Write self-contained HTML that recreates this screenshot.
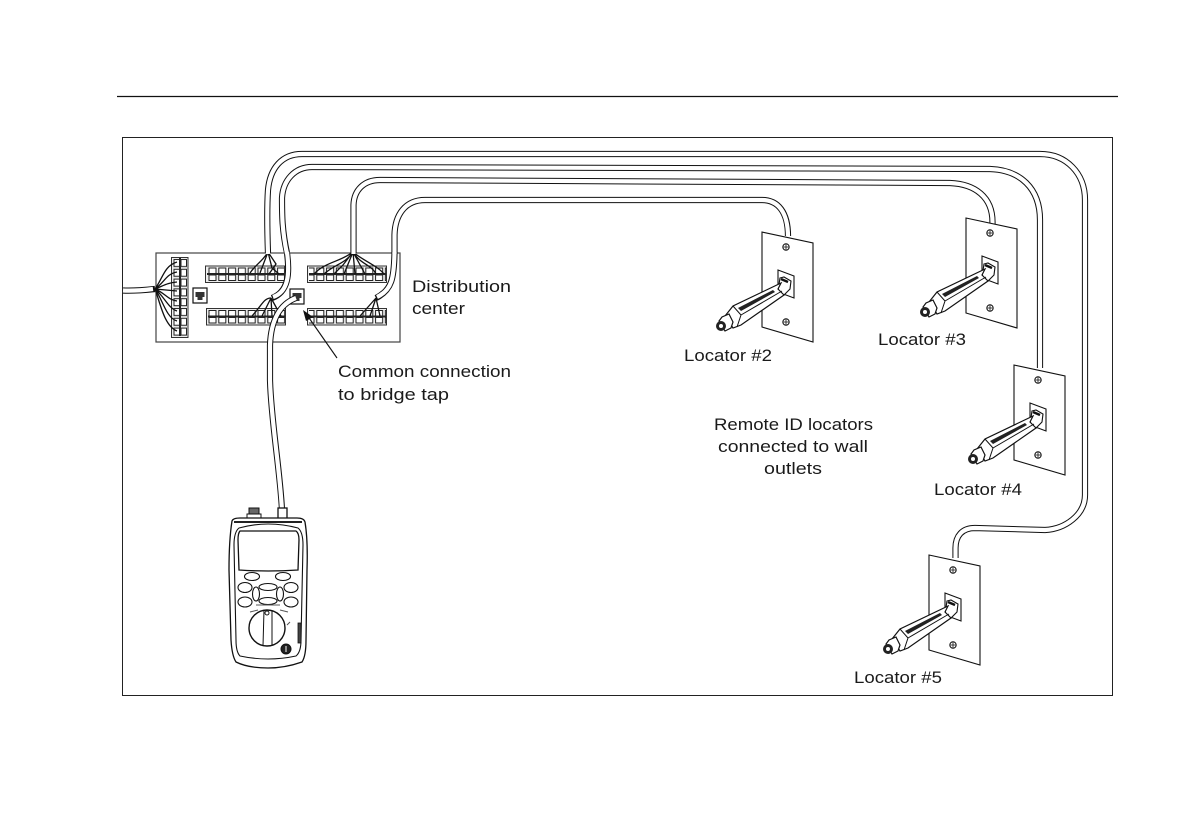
<!DOCTYPE html>
<html><head><meta charset="utf-8"><style>
html,body{margin:0;padding:0;background:#fff;width:1188px;height:828px;overflow:hidden}
svg{display:block}
text{font-family:"Liberation Sans",sans-serif;font-size:17px;fill:#1a1a1a}
</style></head><body>
<svg width="1188" height="828" viewBox="0 0 1188 828" xmlns="http://www.w3.org/2000/svg">
<defs>
<pattern id="hc" x="207" y="266" width="9.8" height="16" patternUnits="userSpaceOnUse">
<rect x="2" y="2" width="7" height="5.5" fill="#fff" stroke="#222" stroke-width="1"/>
<rect x="2" y="9" width="7" height="5.5" fill="#fff" stroke="#222" stroke-width="1"/>
</pattern>
<pattern id="hd" x="207" y="308.500" width="9.8" height="16" patternUnits="userSpaceOnUse">
<rect x="2" y="2" width="7" height="5.5" fill="#fff" stroke="#222" stroke-width="1"/>
<rect x="2" y="9" width="7" height="5.5" fill="#fff" stroke="#222" stroke-width="1"/>
</pattern>
<pattern id="vc" x="172" y="258" width="16" height="9.8" patternUnits="userSpaceOnUse">
<rect x="2" y="1.500" width="5.500" height="7" fill="#fff" stroke="#222" stroke-width="1"/>
<rect x="9" y="1.500" width="5.500" height="7" fill="#fff" stroke="#222" stroke-width="1"/>
</pattern>
<g id="wall">
<polygon points="762,232 813,243 813,342 762,327" fill="#fff" stroke="#111" stroke-width="1.100"/>
<circle cx="786" cy="247" r="3.200" fill="#fff" stroke="#111"/><path d="M782.800,247h6.400M786,243.800v6.400" stroke="#111" stroke-width=".8"/>
<circle cx="786" cy="322" r="3.200" fill="#fff" stroke="#111"/><path d="M782.800,322h6.400M786,318.800v6.400" stroke="#111" stroke-width=".8"/>
<polygon points="778,270 794,276 794,298 778,292" fill="#fff" stroke="#111" stroke-width="1.100"/>
<path d="M780,278 L784,277 L791,281 L790,289 L784,295 L778,291 Z" fill="#fff" stroke="#111" stroke-width="1.100"/>
<path d="M781,279 L788,282" stroke="#111" stroke-width="2.500"/>
<path d="M781,283 L733,306 L725,316 L733,328 L741,325 L784,295 L778,289 Z" fill="#fff" stroke="#111" stroke-width="1.200"/>
<path d="M733,306 L741,315 L737,327 M741,315 L782,291" fill="none" stroke="#111" stroke-width="1"/>
<path d="M738,308 L773,290 L775,292 L741,311 Z" fill="#222"/>
<path d="M729,314 L722,317 L719,321 L725,331 L731,328 L733,322 Z" fill="#fff" stroke="#111" stroke-width="1.200"/>
<circle cx="721" cy="326" r="5" fill="#222"/><circle cx="721" cy="326" r="2" fill="#fff"/>
</g>
</defs>

<line x1="117" y1="96.500" x2="1118" y2="96.500" stroke="#111" stroke-width="1.200"/>
<rect x="122.500" y="137.500" width="990" height="558" fill="#fff" stroke="#222" stroke-width="1"/>

<!-- panel -->
<rect x="156" y="253" width="244" height="89" fill="#fff" stroke="#444" stroke-width="1.200"/>
<!-- blocks -->
<rect x="171.500" y="257.500" width="16.500" height="80" fill="#eee" stroke="#333"/>
<rect x="172" y="258" width="16" height="78.500" fill="url(#vc)"/>
<path d="M180,258V336" stroke="#222" stroke-width="2"/>
<rect x="205.500" y="266" width="79" height="16.500" fill="#eee" stroke="#333"/>
<rect x="207" y="266" width="77" height="16" fill="url(#hc)"/>
<path d="M207,274H284" stroke="#222" stroke-width="2"/>
<rect x="307.500" y="266" width="79" height="16.500" fill="#eee" stroke="#333"/>
<rect x="309" y="266" width="77" height="16" fill="url(#hc)"/>
<path d="M309,274H386" stroke="#222" stroke-width="2"/>
<rect x="206.500" y="308.500" width="79" height="16.500" fill="#eee" stroke="#333"/>
<rect x="208" y="308.500" width="77" height="16" fill="url(#hd)"/>
<path d="M208,316.500H285" stroke="#222" stroke-width="2"/>
<rect x="307.500" y="308.500" width="79" height="16.500" fill="#eee" stroke="#333"/>
<rect x="309" y="308.500" width="77" height="16" fill="url(#hd)"/>
<path d="M309,316.500H386" stroke="#222" stroke-width="2"/>

<!-- RJ jacks -->
<rect x="193" y="288" width="14" height="15" fill="#fff" stroke="#111" stroke-width="1.200"/>
<path d="M195.500,292H204.500V297H202.500V300H197.500V297H195.500Z" fill="#333"/>
<rect x="290" y="289" width="14" height="15" fill="#fff" stroke="#111" stroke-width="1.200"/>
<path d="M292.500,293H301.500V298H299.500V301H294.500V298H292.500Z" fill="#333"/>

<!-- fan-out wires -->
<g fill="none" stroke="#111" stroke-width="1.300">
<path d="M155,289C163,278 164,266 177,262M155,289C165,282 166,274 177,272M155,289C165,285 167,283 177,282M155,289L177,291M155,289C165,293 168,300 177,301M155,289C164,296 168,308 177,311M155,289C162,298 166,318 177,321M155,289C160,302 164,326 177,331"/>
<path d="M268,252C262,262 256,264 250,273M268,252L260,273M268,252L272,268L279,274M268,252L276,264L269,274"/>
<path d="M353,252C340,262 325,262 314,274M353,252C345,264 335,264 324,274M353,252L343,265L334,274M353,252L344,274M353,252L355,274M353,252L365,274M353,252C360,264 372,265 376,274M353,252C362,260 378,266 384,274"/>
<path d="M271,298C264,298 262,305 252,316M271,298L262,316M271,298L272,316M271,298L281,316"/>
<path d="M376,298L360,316M376,298L370,316M376,298L380,316"/>
</g>

<!-- cables: black stroke then white core -->
<g fill="none" stroke-linecap="butt" stroke-linejoin="round">
<g stroke="#111" stroke-width="6.200">
<path d="M123,290.500C135,291 145,290 155,289"/>
<path d="M268,253C267,225 267,205 268,190C270,168 282,154 302,154L1040,154C1066,154 1085,173 1085,200L1085,495C1085,515 1065,529 1045,530L975,528C962,528 955.500,536 955.500,548L955.500,558"/>
<path d="M287,253C282,230 282,215 282,198C283,180 295,167 312,167L990,169C1020,170 1040,188 1040,220L1040,368"/>
<path d="M287,253C290,275 288,292 272,298"/>
<path d="M353.500,253L353.500,205C354,190 364,180 380,180L950,183C975,184 992.500,197 992.500,222L992.500,224"/>
<path d="M394.500,253L394.500,235C395,215 405,200 425,200L762,200C778,200 788,212 788,236"/>
<path d="M394.500,253C394,278 392,290 376,298"/>
<path d="M296,298C280,304 271,320 270,345L270,380C271,420 280,470 282,510"/>
</g>
<g stroke="#fff" stroke-width="4.200">
<path d="M123,290.500C135,291 145,290 153,289"/>
<path d="M268,254C267,225 267,205 268,190C270,168 282,154 302,154L1040,154C1066,154 1085,173 1085,200L1085,495C1085,515 1065,529 1045,530L975,528C962,528 955.500,536 955.500,548L955.500,559"/>
<path d="M287,254C282,230 282,215 282,198C283,180 295,167 312,167L990,169C1020,170 1040,188 1040,220L1040,369"/>
<path d="M287,252C290,275 288,292 273,297"/>
<path d="M353.500,254L353.500,205C354,190 364,180 380,180L950,183C975,184 992.500,197 992.500,222L992.500,225"/>
<path d="M394.500,254L394.500,235C395,215 405,200 425,200L762,200C778,200 788,212 788,237"/>
<path d="M394.500,252C394,278 392,290 377,297"/>
<path d="M296,298C280,304 271,320 270,345L270,380C271,420 280,470 282,511"/>
</g>
</g>

<!-- arrow -->
<path d="M337,358L307,315" stroke="#111" stroke-width="1.100"/>
<polygon points="303,310 313,317 306,321" fill="#111"/>

<!-- walls + locators -->
<use href="#wall"/>
<use href="#wall" transform="translate(204,-14)"/>
<use href="#wall" transform="translate(252,133)"/>
<use href="#wall" transform="translate(167,323)"/>

<!-- tester -->
<g fill="#fff" stroke="#111">
<rect x="249" y="508" width="10" height="6" fill="#666" stroke-width="1"/>
<rect x="247" y="514" width="14" height="4" stroke-width="1"/>
<rect x="278" y="508" width="9" height="11" stroke-width="1.300"/>
<path d="M232,521Q233,518 240,518L297,518Q304,518 305,522Q308,540 307,570L306,640Q306,656 302,662Q285,668 268,668Q248,668 236,662Q232,656 231,640L229,570Q229,540 232,521Z" stroke-width="1.300"/>
<path d="M234,522L302,522" stroke="#222" stroke-width="2"/>
<path d="M239,528Q268,520 298,528Q303,532 303,545L301,640Q301,652 296,656Q268,662 240,656Q236,652 236,640L234,545Q234,532 239,528Z" stroke-width="1.100"/>
<path d="M240,531L296,531Q299,533 299,540L298,570Q268,572 239,570L238,540Q238,533 240,531Z" stroke-width="1.300"/>
<g stroke-width="1.100">
<ellipse cx="252" cy="576.500" rx="7.500" ry="4"/>
<ellipse cx="283" cy="576.500" rx="7.500" ry="4"/>
<ellipse cx="245" cy="587.500" rx="7" ry="5"/>
<ellipse cx="291" cy="587.500" rx="7" ry="5"/>
<ellipse cx="245" cy="602" rx="7" ry="5"/>
<ellipse cx="291" cy="602" rx="7" ry="5"/>
<ellipse cx="268" cy="587" rx="9" ry="3.500"/>
<ellipse cx="268" cy="601" rx="9" ry="3.500"/>
<ellipse cx="256" cy="594" rx="3.500" ry="7"/>
<ellipse cx="280" cy="594" rx="3.500" ry="7"/>
</g>
<circle cx="267" cy="628" r="18" stroke-width="1.400"/>
<path d="M264,610L263,646M272,610L272,646" stroke-width="1"/>
<circle cx="267" cy="613" r="2" stroke-width="1"/>
<circle cx="286" cy="649" r="5" fill="#222"/><path d="M286,646v6" stroke="#fff"/>
<rect x="298" y="623" width="3" height="20" fill="#444" stroke-width=".8"/>
</g>
<g stroke="#555" stroke-width="1" fill="none">
<path d="M250,612l8,-2M280,610l8,2M256,605l24,0M290,622l-3,3"/>
</g>

<!-- labels -->
<text x="412" y="292" textLength="99" lengthAdjust="spacingAndGlyphs">Distribution</text>
<text x="412" y="314" textLength="53" lengthAdjust="spacingAndGlyphs">center</text>
<text x="338" y="377" textLength="173" lengthAdjust="spacingAndGlyphs">Common connection</text>
<text x="338" y="400" textLength="111" lengthAdjust="spacingAndGlyphs">to bridge tap</text>
<text x="684" y="361" textLength="88" lengthAdjust="spacingAndGlyphs">Locator #2</text>
<text x="878" y="345" textLength="88" lengthAdjust="spacingAndGlyphs">Locator #3</text>
<text x="934" y="495" textLength="88" lengthAdjust="spacingAndGlyphs">Locator #4</text>
<text x="854" y="683" textLength="88" lengthAdjust="spacingAndGlyphs">Locator #5</text>
<text x="714" y="430" textLength="159" lengthAdjust="spacingAndGlyphs">Remote ID locators</text>
<text x="718" y="452" textLength="150" lengthAdjust="spacingAndGlyphs">connected to wall</text>
<text x="764" y="474" textLength="58" lengthAdjust="spacingAndGlyphs">outlets</text>
</svg>
</body></html>
